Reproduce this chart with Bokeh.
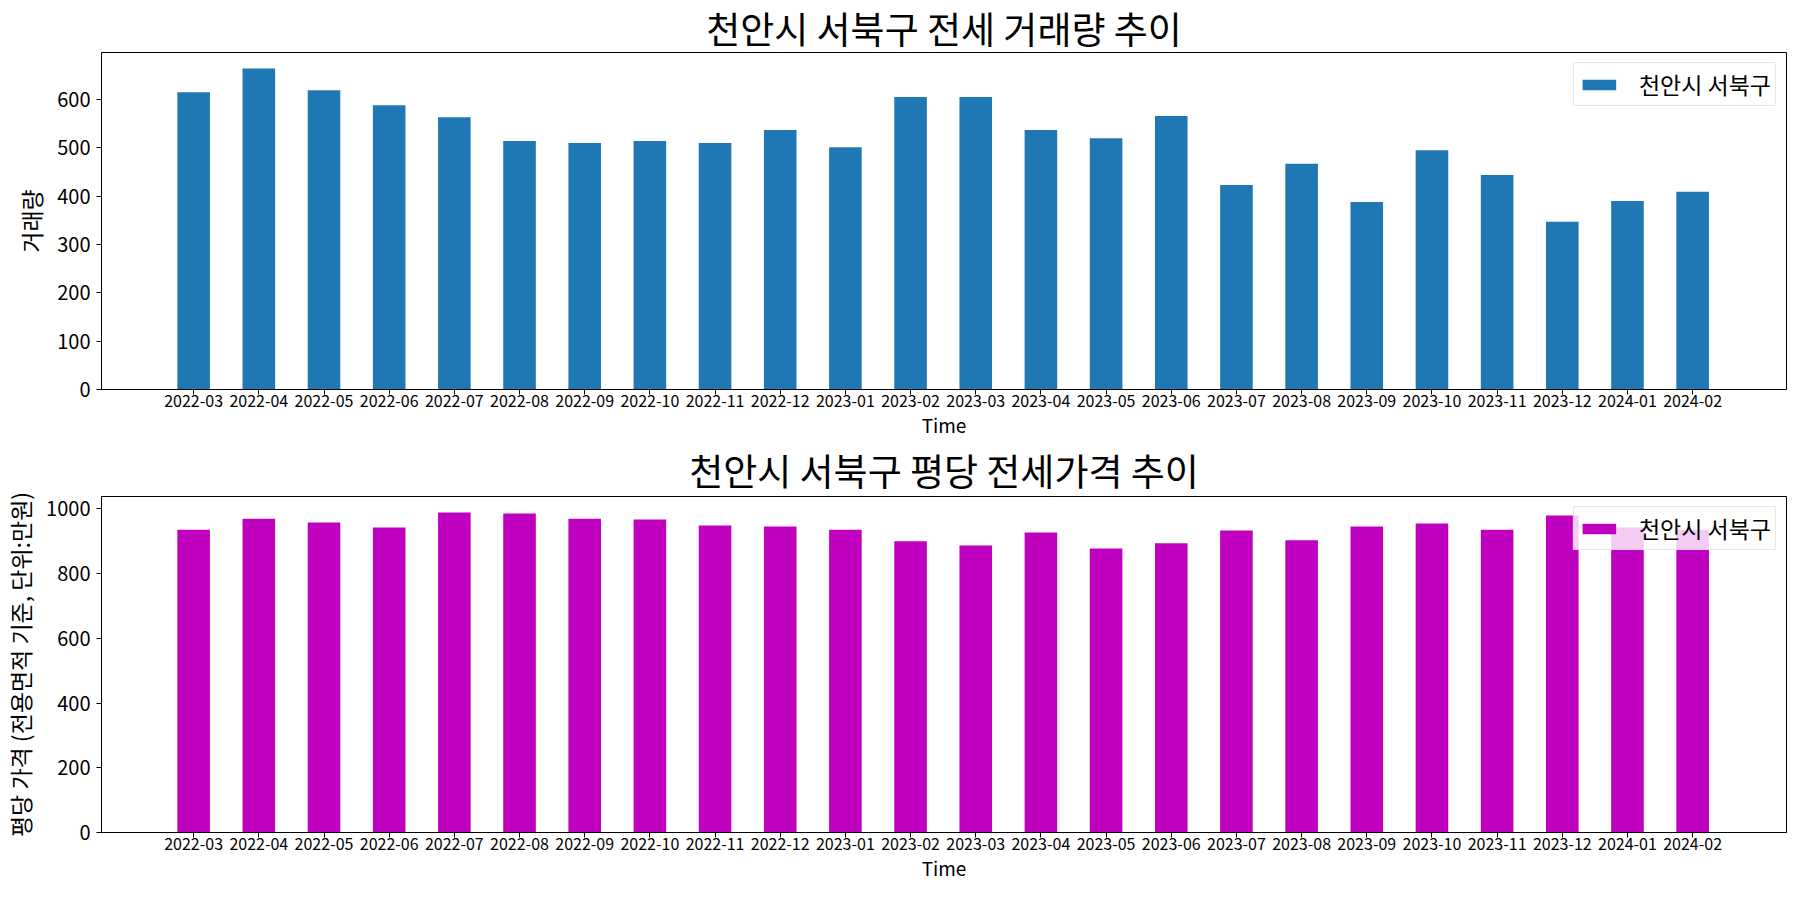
from bokeh.plotting import figure
from bokeh.layouts import column
from bokeh.models import Range1d, FixedTicker, Legend, LegendItem, ColumnDataSource
from bokeh.embed import file_html
from bokeh.resources import INLINE

months = ["2022-03", "2022-04", "2022-05", "2022-06", "2022-07", "2022-08",
          "2022-09", "2022-10", "2022-11", "2022-12", "2023-01", "2023-02",
          "2023-03", "2023-04", "2023-05", "2023-06", "2023-07", "2023-08",
          "2023-09", "2023-10", "2023-11", "2023-12", "2024-01", "2024-02"]
volume = [615, 664, 619, 588, 563, 514, 510, 514, 510, 537, 501, 605,
          605, 537, 520, 566, 423, 467, 388, 495, 444, 347, 390, 409]
price = [936, 970, 958, 943, 989, 986, 970, 967, 949, 946, 936, 900,
         887, 927, 878, 894, 933, 903, 946, 955, 936, 980, 943, 936]

region = "천안시 서북구"
FONT = "Noto Sans CJK KR"
xpos = list(range(len(months)))


def make(title, values, color, ylabel, ytick_step, height, top_border, bottom_border, standoff):
    ymax = max(values) * 1.05
    p = figure(width=1800, height=height, output_backend="svg", toolbar_location=None,
               x_range=Range1d(-1.414, len(months) - 1 + 1.44),
               y_range=Range1d(0, ymax),
               min_border_left=99, min_border_right=14,
               min_border_top=top_border, min_border_bottom=bottom_border)
    p.title.text = title
    p.title.align = "center"
    p.title.text_font = FONT
    p.title.text_font_size = "37px"
    p.title.text_font_style = "normal"
    p.title.text_color = "black"
    p.title.standoff = standoff
    src = ColumnDataSource(dict(x=xpos, top=values))
    r = p.vbar(x="x", top="top", width=0.5, source=src, fill_color=color, line_color=None)
    p.xgrid.visible = False
    p.ygrid.visible = False
    p.outline_line_color = "black"
    p.outline_line_alpha = 1
    p.outline_line_width = 1
    p.background_fill_color = "white"
    p.border_fill_color = "white"

    xa = p.xaxis[0]
    xa.ticker = FixedTicker(ticks=xpos)
    xa.major_label_overrides = {i: m for i, m in enumerate(months)}
    xa.axis_label = "Time"
    ya = p.yaxis[0]
    ya.ticker = FixedTicker(ticks=list(range(0, int(ymax) + 1, ytick_step)))
    ya.axis_label = ylabel
    for ax, lfs, afs in ((xa, "16px", "19px"), (ya, "20px", "23px")):
        ax.major_label_text_font = FONT
        ax.major_label_text_font_size = lfs
        ax.major_label_text_color = "black"
        ax.axis_label_text_font = FONT
        ax.axis_label_text_font_size = afs
        ax.axis_label_text_font_style = "normal"
        ax.axis_label_text_color = "black"
        ax.axis_line_color = "black"
        ax.major_tick_line_color = "black"
        ax.major_tick_out = 5
        ax.major_tick_in = 0
        ax.minor_tick_line_color = None
    xa.major_label_standoff = 0
    xa.axis_label_standoff = 1
    ya.major_label_standoff = 6
    ya.axis_label_standoff = 6

    legend = Legend(items=[LegendItem(label=region, renderers=[r])], location="top_right")
    legend.label_text_font = FONT
    legend.label_text_font_size = "23px"
    legend.label_text_color = "black"
    legend.glyph_width = 42
    legend.glyph_height = 13
    legend.label_standoff = 19
    legend.padding = 4
    legend.margin = 10
    legend.border_line_color = "#cccccc"
    legend.border_line_width = 1
    legend.background_fill_color = "white"
    legend.background_fill_alpha = 0.8
    p.add_layout(legend)
    return p


p1 = make("천안시 서북구 전세 거래량 추이", volume, "#1f77b4", "거래량", 100, 440, 51, 51, -4)
p2 = make("천안시 서북구 평당 전세가격 추이", price, "#bf00bf",
          "평당 가격 (전용면적 기준, 단위:만원)", 200, 452, 54, 60, 0)

p = column(p1, p2, spacing=0)
open("out.html", "w").write(file_html(p, INLINE))
